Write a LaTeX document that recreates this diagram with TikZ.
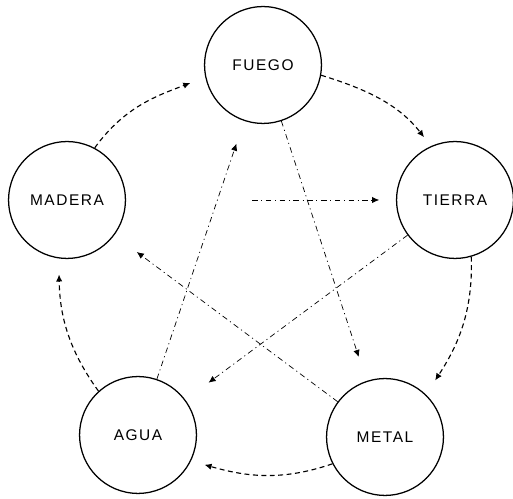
\documentclass[tikz,border=0pt]{standalone}
\usepackage{fontspec}
\newfontfamily\elemfont[LetterSpace=10]{Liberation Sans}
\usetikzlibrary{arrows.meta}

\begin{document}
\begin{tikzpicture}[x=0.025cm, y=0.025cm,
  elem/.style={draw, circle, line width=0.9pt, minimum size=2.92cm, inner sep=0pt,
    font=\elemfont\fontsize{11}{13}\selectfont},
  gen/.style={line width=0.8pt, dash pattern=on 3.5pt off 2.5pt,
    -{Latex[length=5pt,width=4.5pt]}},
  ctl/.style={line width=0.5pt, dash pattern=on 4pt off 2.5pt on 0.8pt off 2.5pt,
    -{Latex[length=5pt,width=4.5pt]}}]
\useasboundingbox (0,0) rectangle (513,499);

\coordinate (f) at (263,434);
\coordinate (t) at (455,299);
\coordinate (me) at (385,62);
\coordinate (a) at (138,64);
\coordinate (ma) at (67,299);

\node[elem] (fuego) at (f) {FUEGO};
\node[elem] (tierra) at (t) {TIERRA};
\node[elem] (metal) at (me) {METAL};
\node[elem] (agua) at (a) {AGUA};
\node[elem] (madera) at (ma) {MADERA};

% ciclo exterior
\foreach \a/\b/\o/\i/\s in {madera.62/fuego.192/54/201/0.4, fuego.350/tierra.114/-17/128/0.28,
  tierra.286/metal.46/-88/57/0.42, metal.207/agua.334/199/-16/0.35, agua.132/madera.262/126/271/0.4}
{ \draw[gen, shorten >=\s cm] (\a) to[out=\o, in=\i] (\b); }

% estrella interior
\foreach \a/\b/\s in {fuego/metal/0.63, metal/madera/0.7, tierra/agua/0.72, agua/fuego/0.6}
{ \draw[ctl, shorten >=\s cm] (\a) -- (\b); }
\draw[ctl, shorten <=3.15cm, shorten >=0.42cm] (madera) -- (tierra);

\end{tikzpicture}
\end{document}
